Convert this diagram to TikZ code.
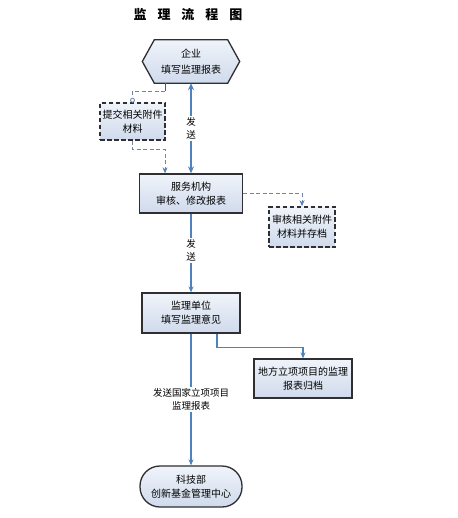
\documentclass[tikz,border=0pt]{standalone}
\usepackage{fontspec}
\setmainfont{Noto Sans CJK SC}
\usetikzlibrary{arrows.meta,backgrounds}
\definecolor{lineblue}{HTML}{4F81BD}
\definecolor{dashcol}{HTML}{6F84A6}
\definecolor{edgecol}{HTML}{2E2E33}
\definecolor{fillA}{HTML}{F0F4FA}
\definecolor{fillB}{HTML}{CFDAEC}
\begin{document}
\begin{tikzpicture}[x=1pt,y=-1pt,
  txt/.style={align=center,font=\fontsize{10}{14}\selectfont,inner sep=0pt},
  box/.style={txt,draw=edgecol,line width=1.3pt,top color=fillA,bottom color=fillB},
  dbox/.style={box,dash pattern=on 4.5pt off 2.5pt,line width=1.6pt},
  flow/.style={draw=lineblue,line width=1.1pt,-{Stealth[length=6pt,width=5pt]}},
  dflow/.style={draw=dashcol,line width=0.9pt,dash pattern=on 4pt off 2.5pt},
  lab/.style={txt,font=\fontsize{9.5}{13}\selectfont,fill=white,inner sep=1.5pt}
]
\useasboundingbox (0,0) rectangle (457,518);

\node[font=\fontsize{13}{15}\selectfont\bfseries,inner sep=0pt] (title) at (188,15)
  {监\hspace{11pt}理\hspace{11pt}流\hspace{11pt}程\hspace{11pt}图};

% hexagon
\node[txt,minimum width=97pt,minimum height=43pt,font=\fontsize{10}{15.5}\selectfont] (ent) at (191,61.5) {企业\\填写监理报表};
\begin{scope}[on background layer]
\fill[white] (0,0) rectangle (457,518);
\draw[draw=edgecol,line width=1.3pt,top color=fillA,bottom color=fillB]
  (ent.west) -- ([xshift=12pt]ent.north west) -- ([xshift=-12pt]ent.north east)
  -- (ent.east) -- ([xshift=-12pt]ent.south east) -- ([xshift=12pt]ent.south west) -- cycle;
\end{scope}

\node[dbox,minimum width=65pt,minimum height=37pt] (att) at (132.5,121.5) {提交相关附件\\材料};
\node[box,minimum width=103pt,minimum height=39pt] (svc) at (191,193.5) {服务机构\\审核、修改报表};
\node[dbox,minimum width=66pt,minimum height=40pt] (arc) at (302,227) {审核相关附件\\材料并存档};
\node[box,minimum width=98pt,minimum height=40pt] (sup) at (191,313) {监理单位\\填写监理意见};
\node[box,minimum width=98pt,minimum height=39pt] (loc) at (303,378.5) {地方立项项目的监理\\报表归档};
\node[box,minimum width=102pt,minimum height=41pt,rounded corners=20pt] (ter) at (191,486.5) {科技部\\创新基金管理中心};

% connectors
\draw[flow,line width=2pt,{Stealth[length=7pt,width=6pt]}-{Stealth[length=7pt,width=6pt]}] (ent.south) -- (svc.north)
  node[lab,midway,yshift=-0.5pt] (l1) {发\\送};
\coordinate (c1) at ([xshift=-26pt,yshift=-8pt]ent.south);
\draw[draw=edgecol!80,line width=0.8pt] ([xshift=-26pt]ent.south) -- (c1);
\draw[dflow] (c1) -| ([yshift=4pt]att.north);
\draw[draw=dashcol,line width=0.8pt,fill=white] ([yshift=2pt]att.north) circle (2pt);
\draw[dflow,-{Stealth[length=6pt,width=5pt,color=lineblue]}] (att.south) -- ++(0,9) -| ([xshift=-26pt]svc.north);
\draw[dflow,-{Stealth[length=6pt,width=5pt,color=lineblue]}] (svc.east) -| (arc.north);
\draw[flow] (svc.south) -- (sup.north) node[lab,pos=0.47] (l2) {发\\送};
\draw[flow] ([xshift=26pt]sup.south) -- ++(0,14) -| (loc.north);
\draw[flow] (sup.south) -- (ter.north) node[lab,midway] (l3) {发送国家立项项目\\监理报表};
\end{tikzpicture}
\end{document}
